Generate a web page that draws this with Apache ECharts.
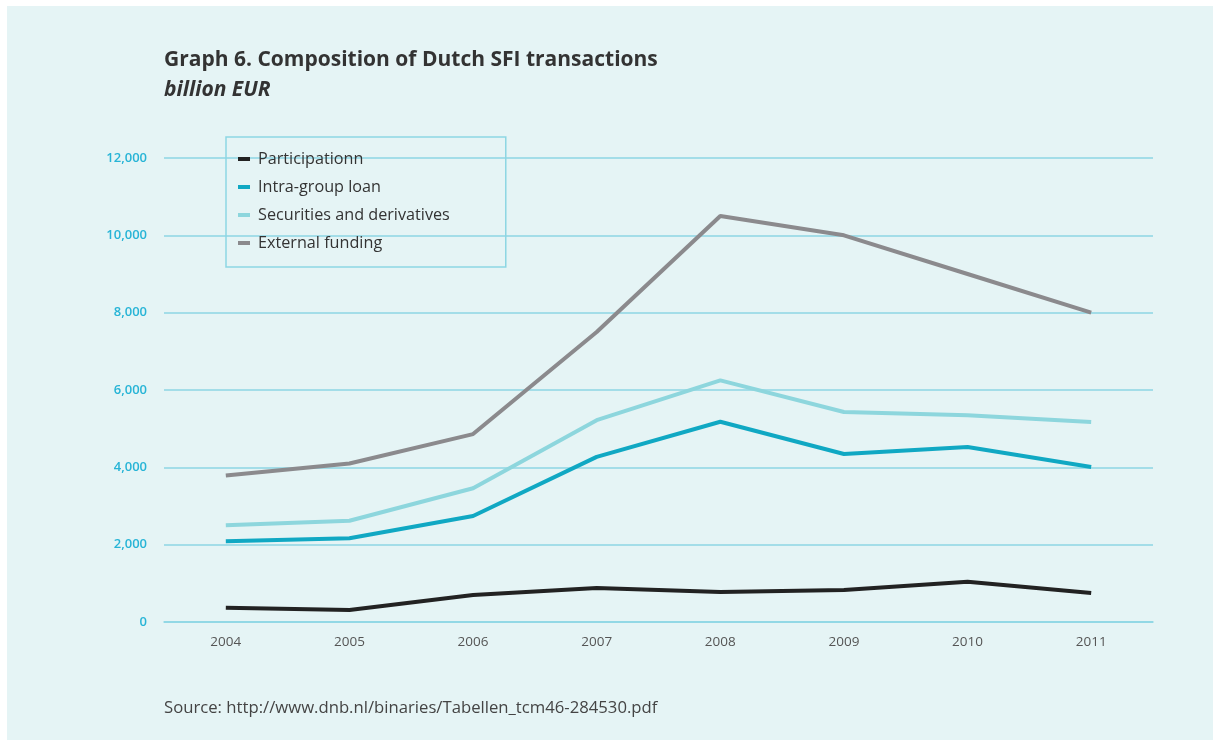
<html>
<head>
<meta charset="utf-8">
<script src="https://cdn.jsdelivr.net/npm/echarts@6/dist/echarts.min.js"></script>
<style>
  body { margin: 0; background: #fff; }
  #chart { width: 1213px; height: 740px; }
</style>
</head>
<body>
<div id="chart"></div>
<script>
var years = ['2004', '2005', '2006', '2007', '2008', '2009', '2010', '2011'];
var participation = [370, 310, 700, 880, 775, 830, 1040, 750];
var intraGroupLoan = [2090, 2165, 2740, 4270, 5180, 4345, 4525, 4010];
var securities = [2500, 2620, 3460, 5220, 6250, 5430, 5350, 5170];
var externalFunding = [3790, 4100, 4860, 7500, 10500, 10000, 9000, 8000];

var myChart = echarts.init(document.getElementById('chart'));

function line(name, data, color) {
	return {
		name: name,
		type: 'line',
		data: data,
		symbol: 'none',
		lineStyle: { width: 4, color: color },
		itemStyle: { color: color }
	};
}

var option = {
	animation: false,
	textStyle: { fontFamily: 'Open Sans' },
	graphic: [
		{ type: 'rect', shape: { x: 7, y: 6, width: 1206, height: 734 }, style: { fill: '#e5f4f5' }, z: -10 },
		{ type: 'text', left: 164, top: 700, style: { text: 'Source: http://www.dnb.nl/binaries/Tabellen_tcm46-284530.pdf', fill: '#444', font: '16.7px "Open Sans"' } }
	],
	title: {
		text: 'Graph 6. Composition of Dutch SFI transactions',
		subtext: 'billion EUR',
		left: 159,
		top: 45,
		itemGap: 9,
		textStyle: { fontSize: 21, fontWeight: 'bold', color: '#333' },
		subtextStyle: { fontSize: 21, fontWeight: 'bold', fontStyle: 'italic', color: '#333' }
	},
	legend: {
		orient: 'vertical',
		left: 226,
		top: 137,
		padding: [14, 56, 16, 12],
		itemGap: 12,
		itemWidth: 12,
		itemHeight: 4,
		icon: 'rect',
		borderColor: '#8dd6e3',
		borderWidth: 1.5,
		textStyle: { fontSize: 16.2, color: '#333', padding: [0, 0, 0, 3] },
		data: ['Participationn', 'Intra-group loan', 'Securities and derivatives', 'External funding']
	},
	grid: { left: 164, right: 60, top: 158, bottom: 118 },
	xAxis: {
		type: 'category',
		data: years,
		boundaryGap: true,
		axisLine: { lineStyle: { color: '#8dd6e3', width: 1.5 } },
		axisTick: { show: false },
		axisLabel: { color: '#555', fontSize: 13.5, margin: 13 }
	},
	yAxis: {
		type: 'value',
		min: 0,
		max: 12000,
		interval: 2000,
		axisLine: { show: false },
		axisTick: { show: false },
		splitLine: { lineStyle: { color: '#8dd6e3', width: 1.5 } },
		axisLabel: {
			color: '#27b4d6',
			fontSize: 13,
			fontWeight: 600,
			margin: 17,
			padding: [0, 0, 8, 0],
			formatter: function (v) { return v.toLocaleString('en-US'); }
		}
	},
	series: [
		line('Participationn', participation, '#222222'),
		line('Intra-group loan', intraGroupLoan, '#10a8c3'),
		line('Securities and derivatives', securities, '#8dd6dd'),
		line('External funding', externalFunding, '#8b8a8d')
	]
};

myChart.setOption(option);
</script>
</body>
</html>
